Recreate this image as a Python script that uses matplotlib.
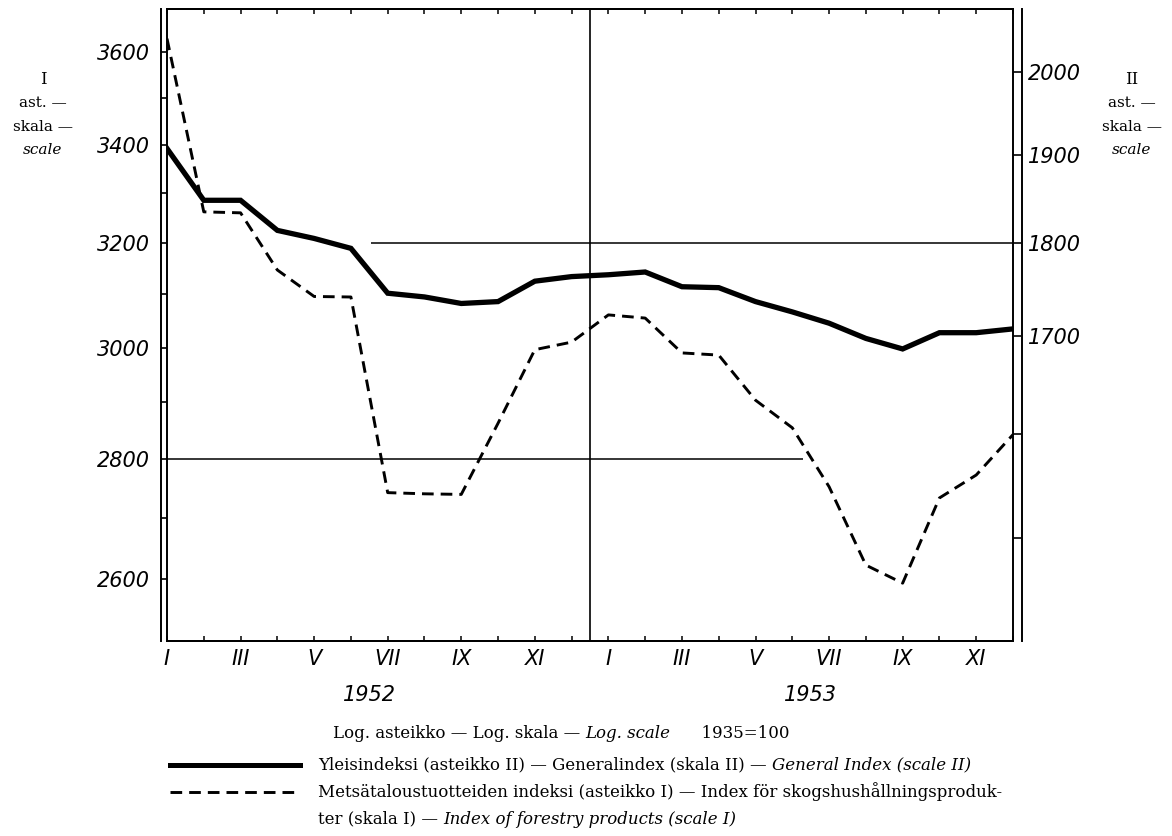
import numpy as np
import matplotlib
matplotlib.use("Agg")
import matplotlib.pyplot as plt
from matplotlib.ticker import FixedLocator, NullFormatter, FixedFormatter
from matplotlib.lines import Line2D

# monthly values, Jan 1952 .. Dec 1953
months = ["I", "II", "III", "IV", "V", "VI", "VII", "VIII", "IX", "X", "XI", "XII"] * 2
years = ["1952", "1953"]
general_index = [1908, 1848, 1848, 1814, 1805, 1794, 1745, 1741, 1734, 1736, 1758, 1763,
                 1765, 1768, 1752, 1751, 1736, 1725, 1713, 1697, 1686, 1703, 1703, 1707]
forestry_index = [3630, 3262, 3260, 3147, 3096, 3095, 2743, 2741, 2740, 2863, 2996, 3010,
                  3061, 3055, 2990, 2986, 2904, 2855, 2753, 2623, 2594, 2734, 2773, 2843]
scale1_major = [2600, 2800, 3000, 3200, 3400, 3600]
scale1_minor = [2500, 2700, 2900, 3100, 3300, 3500, 3700]
scale2_major = [1700, 1800, 1900, 2000]
scale2_minor = [1500, 1600]

# tick labels are italic sans; every other text sets its style itself
plt.rcParams["font.family"] = "DejaVu Sans"
plt.rcParams["font.style"] = "italic"

W, H = 1172, 836
fig = plt.figure(figsize=(W / 100, H / 100), dpi=100)
ax = fig.add_axes([167 / W, 1 - 641 / H, (1013 - 167) / W, (641 - 9) / H])
ax2 = ax.twinx()

x = np.arange(len(months))
serif = "DejaVu Serif"
dash = (0, (4, 2.4))

# scale I (left), log
ax.set_yscale("log")
ax.set_ylim(2503, 3697)
ax.set_xlim(0, 23)
ax.plot(x, forestry_index, color="black", lw=2.1, linestyle=dash, zorder=3)
ax.hlines(3200, 5.55, 23, color="black", lw=1.1)
ax.hlines(2800, 0, 17.3, color="black", lw=1.1)
ax.axvline(11.5, color="black", lw=1.2)

ax.yaxis.set_major_locator(FixedLocator(scale1_major))
ax.yaxis.set_major_formatter(FixedFormatter([str(v) for v in scale1_major]))
ax.yaxis.set_minor_locator(FixedLocator(scale1_minor))
ax.yaxis.set_minor_formatter(NullFormatter())
ax.tick_params(axis="y", which="both", direction="out", length=4.4, width=1.2, pad=8,
               labelsize=15)

ax.set_xticks(x)
ax.set_xticklabels([m if i % 2 == 0 else "" for i, m in enumerate(months)])
ax.tick_params(axis="x", which="both", direction="in", length=3.6, width=1.1,
               pad=6, top=True, labelsize=15)
ax.xaxis.set_minor_locator(FixedLocator([]))

# scale II (right), log, same ratio
ax2.set_yscale("log")
ax2.set_ylim(2503 * 0.5625, 3697 * 0.5625)
ax2.plot(x, general_index, color="black", lw=3.8, solid_joinstyle="miter", zorder=4)
ax2.yaxis.set_major_locator(FixedLocator(scale2_major))
ax2.yaxis.set_major_formatter(FixedFormatter([str(v) for v in scale2_major]))
ax2.yaxis.set_minor_locator(FixedLocator(scale2_minor))
ax2.yaxis.set_minor_formatter(NullFormatter())
ax2.tick_params(axis="y", which="both", direction="out", length=6, width=1.2, pad=5,
                labelsize=15)

for a in (ax, ax2):
    for s in a.spines.values():
        s.set_linewidth(1.4)
ax.spines["right"].set_position(("outward", 6.2))
ax2.spines["left"].set_position(("outward", 4.4))

# years
for i, yr in enumerate(years):
    ax.text(5.5 + 12 * i, -0.085, yr, transform=ax.get_xaxis_transform(),
            ha="center", va="center", size=15, style="italic")

# side scale labels
def side_block(xc, first):
    fig.text(xc / W, 1 - 80 / H, first, ha="center", va="center", family=serif,
             size=12, style="normal")
    fig.text(xc / W, 1 - 103 / H, "ast. —", ha="center", va="center", family=serif,
             size=11, style="normal")
    fig.text(xc / W, 1 - 127 / H, "skala —", ha="center", va="center", family=serif,
             size=11, style="normal")
    fig.text(xc / W, 1 - 150 / H, "scale", ha="center", va="center", family=serif,
             size=11, style="italic")

side_block(43, "I")
side_block(1132, "II")

# legend texts with mixed styles
fig.canvas.draw()
renderer = fig.canvas.get_renderer()

def text_run(x0, y0, parts, size=12):
    xx = x0
    for txt, style in parts:
        t = fig.text(xx / W, 1 - y0 / H, txt, ha="left", va="center", family=serif,
                     size=size, style=style)
        xx += t.get_window_extent(renderer).width

text_run(333, 733, [("Log. asteikko — Log. skala — ", "normal"), ("Log. scale", "italic"),
                    ("      1935=100", "normal")])
text_run(318, 765, [("Yleisindeksi (asteikko II) — Generalindex (skala II) — ", "normal"),
                    ("General Index (scale II)", "italic")])
text_run(318, 792, [("Metsätaloustuotteiden indeksi (asteikko I) — Index för skogshushållningsproduk-",
                     "normal")])
text_run(318, 819, [("ter (skala I) — ", "normal"), ("Index of forestry products (scale I)", "italic")])

fig.add_artist(Line2D([170 / W, 300 / W], [1 - 765 / H] * 2, color="black", lw=3.6))
fig.add_artist(Line2D([170 / W, 300 / W], [1 - 792 / H] * 2, color="black", lw=2.1,
                      linestyle=dash))

fig.savefig("out.png", dpi=100)
